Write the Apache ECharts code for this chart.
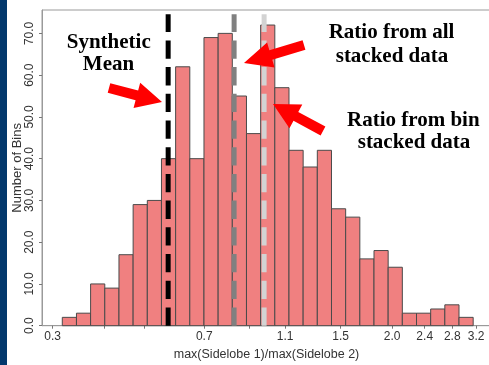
<!DOCTYPE html>
<html>
<head>
<meta charset="utf-8">
<script src="https://cdn.jsdelivr.net/npm/echarts@6/dist/echarts.min.js"></script>
<style>
html,body{margin:0;padding:0;background:#fff;}
#chart{width:489px;height:365px;}
</style>
</head>
<body>
<div id="chart"></div>
<script>
// ---- data ----
const binEdges = [0.3165, 0.3426, 0.3708, 0.4014, 0.4345, 0.4703, 0.5091, 0.5510, 0.5964, 0.6456,
  0.6988, 0.7564, 0.8187, 0.8862, 0.9593, 1.0383, 1.1239, 1.2165, 1.3168, 1.4253,
  1.5428, 1.6700, 1.8076, 1.9566, 2.1179, 2.2924, 2.4813, 2.6858, 2.9072, 3.1468];
const counts = [2, 3, 10, 9, 17, 29, 30, 40, 62, 40, 69, 70, 55, 46, 72, 57, 42, 38, 42, 28,
  26, 16, 18, 14, 3, 3, 4, 5, 2];
const xTickValues = [0.3, 0.4, 0.5, 0.7, 0.9, 1.1, 1.5, 2.0, 2.4, 2.8, 3.2];
const xLabelValues = [0.3, 0.7, 1.1, 1.5, 2.0, 2.4, 2.8, 3.2];
const refNames = ['Synthetic Mean', 'Ratio from all stacked data', 'Ratio from bin stacked data'];
const refValues = [0.572, 0.827, 0.978];
const refColors = ['#000000', '#808080', '#d3d3d3'];
const xTitle = 'max(Sidelobe 1)/max(Sidelobe 2)';
const yTitle = 'Number of Bins';

// ---- build ----
const chart = echarts.init(document.getElementById('chart'), null, {renderer: 'canvas'});
const ln = Math.log;
const histData = counts.map((c, i) => [ln(binEdges[i]), ln(binEdges[i + 1]), c]);
const lineTop = 74.6;

const refSeries = refValues.map((v, i) => ({
  type: 'line',
  name: refNames[i],
  data: [[ln(v), 0], [ln(v), lineTop]],
  symbol: 'none',
  silent: true,
  z: 5,
  lineStyle: {color: refColors[i], width: 5, type: [18.3, 8.4], cap: 'butt'}
}));

function arrowPoints(tail, tip, shaftW, headW, headL) {
  const dx = tip[0] - tail[0], dy = tip[1] - tail[1];
  const L = Math.sqrt(dx * dx + dy * dy);
  const ux = dx / L, uy = dy / L, nx = -uy, ny = ux;
  const bx = tip[0] - ux * headL, by = tip[1] - uy * headL;
  const p = (x, y) => [x, y];
  return [
    p(tail[0] + nx * shaftW / 2, tail[1] + ny * shaftW / 2),
    p(bx + nx * shaftW / 2, by + ny * shaftW / 2),
    p(bx + nx * headW / 2, by + ny * headW / 2),
    p(tip[0], tip[1]),
    p(bx - nx * headW / 2, by - ny * headW / 2),
    p(bx - nx * shaftW / 2, by - ny * shaftW / 2),
    p(tail[0] - nx * shaftW / 2, tail[1] - ny * shaftW / 2)
  ];
}
const serifBold = 'bold 21px "Liberation Serif", "Times New Roman", serif';
function label(text, x, y) {
  return {type: 'text', z: 100, style: {text: text, x: x, y: y, font: serifBold, fill: '#000', align: 'center', verticalAlign: 'middle'}};
}

const option = {
  animation: false,
  backgroundColor: '#ffffff',
  grid: {left: 42, right: -2, top: 10, bottom: 39.3, show: true, borderColor: '#9a9a9a', borderWidth: 1,
    containLabel: false, outerBoundsMode: 'none'},
  xAxis: {
    type: 'value',
    min: -1.2638,
    max: 1.2460,
    name: xTitle,
    nameLocation: 'middle',
    nameGap: 22,
    nameMoveOverlap: false,
    nameTextStyle: {fontFamily: '"Liberation Sans", Arial, sans-serif', fontSize: 12.5, color: '#333'},
    splitLine: {show: false},
    axisLine: {show: true, onZero: false, lineStyle: {color: '#9a9a9a', width: 1}},
    axisTick: {show: true, length: 3, customValues: xTickValues.map(ln), lineStyle: {color: '#777'}},
    axisLabel: {
      customValues: xLabelValues.map(ln),
      formatter: v => Math.exp(v).toFixed(1),
      fontFamily: '"Liberation Sans", Arial, sans-serif', fontSize: 12, color: '#333', margin: 5
    }
  },
  yAxis: {
    type: 'value',
    min: 0,
    max: 75.6,
    interval: 10,
    name: yTitle,
    nameLocation: 'middle',
    nameGap: 18,
    nameMoveOverlap: false,
    nameTextStyle: {fontFamily: '"Liberation Sans", Arial, sans-serif', fontSize: 13, color: '#333'},
    splitLine: {show: false},
    axisLine: {show: true, onZero: false, lineStyle: {color: '#9a9a9a', width: 1}},
    axisTick: {show: true, length: 3, lineStyle: {color: '#777'}},
    axisLabel: {
      rotate: 90,
      showMaxLabel: false,
      formatter: v => v.toFixed(1),
      fontFamily: '"Liberation Sans", Arial, sans-serif', fontSize: 12, color: '#333', margin: 6
    }
  },
  series: [{
    type: 'custom',
    name: 'bins',
    data: histData,
    z: 2,
    renderItem: function (params, api) {
      const p0 = api.coord([api.value(0), api.value(2)]);
      const p1 = api.coord([api.value(1), 0]);
      return {
        type: 'rect',
        shape: {x: p0[0], y: p0[1], width: p1[0] - p0[0], height: p1[1] - p0[1]},
        style: {fill: '#f08080', stroke: '#4a4a4a', lineWidth: 1}
      };
    }
  }].concat(refSeries),
  graphic: [
    {type: 'rect', shape: {x: 0, y: 0, width: 7, height: 365}, style: {fill: '#03386c'}, z: 100},
    {type: 'polygon', z: 100, shape: {points: arrowPoints([109, 88], [162, 102], 10, 26, 26)}, style: {fill: '#ff0000'}},
    {type: 'polygon', z: 100, shape: {points: arrowPoints([304, 45], [244, 63], 10, 26, 28)}, style: {fill: '#ff0000'}},
    {type: 'polygon', z: 100, shape: {points: arrowPoints([323, 131], [273, 104], 10, 27, 26)}, style: {fill: '#ff0000'}},
    label('Synthetic', 108.7, 42.2),
    label('Mean', 108.5, 64.6),
    label('Ratio from all', 391.5, 32.2),
    label('stacked data', 392, 56.2),
    label('Ratio from bin', 413.3, 120.2),
    label('stacked data', 414, 142.9)
  ]
};
chart.setOption(option);
</script>
</body>
</html>
